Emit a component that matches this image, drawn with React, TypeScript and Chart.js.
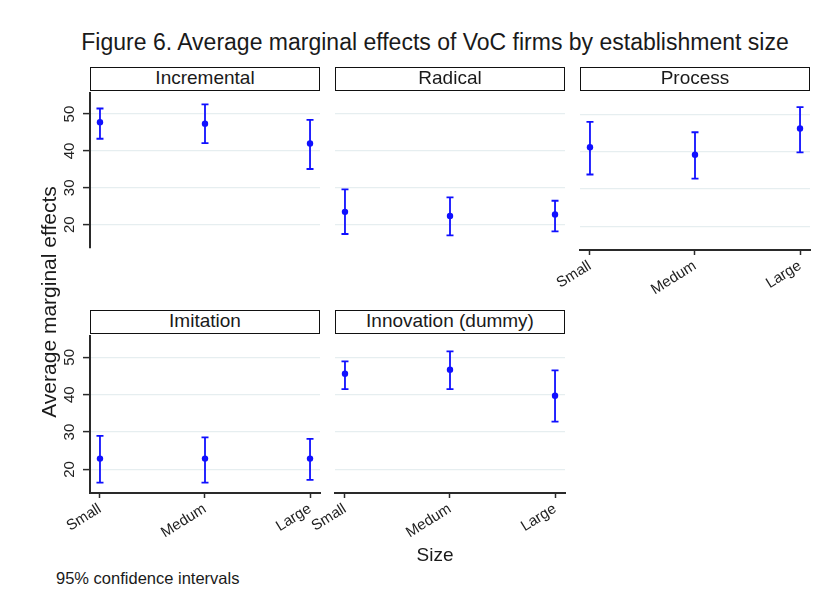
import React, { useEffect, useRef } from 'react';
import { Chart, registerables } from 'chart.js';

Chart.register(...registerables);

// Establishment size categories (tick labels as printed on the axis)
const sizeLabels = ['Small', 'Medum', 'Large'];
const yTickValues = [20, 30, 40, 50];

// Average marginal effects with 95% confidence bounds, per innovation type
const incrementalMean = [47.8, 47.4, 42.0];
const incrementalLow = [43.3, 42.1, 35.1];
const incrementalHigh = [51.5, 52.6, 48.4];

const radicalMean = [23.5, 22.4, 22.8];
const radicalLow = [17.5, 17.1, 18.2];
const radicalHigh = [29.6, 27.4, 26.5];

const processMean = [41.2, 39.2, 46.2];
const processLow = [33.9, 32.8, 39.8];
const processHigh = [48.0, 45.2, 51.9];

const imitationMean = [22.9, 22.9, 22.9];
const imitationLow = [16.5, 16.5, 17.2];
const imitationHigh = [29.0, 28.6, 28.2];

const innovationMean = [45.6, 46.7, 39.7];
const innovationLow = [41.5, 41.5, 32.8];
const innovationHigh = [48.9, 51.6, 46.5];

const FONT = "'Liberation Sans', Arial, Helvetica, sans-serif";
const BLUE = '#1010ff';
const AXIS = '#2a2a2a';
const GRID = '#e6eef0';

const PLOT_W = 230;
const PLOT_H = 159;
const Y_AXIS_W = 40;
const X_AXIS_H = 60;

type PanelSpec = {
  title: string;
  mean: number[];
  low: number[];
  high: number[];
  left: number;
  top: number;
  showY: boolean;
  showX: boolean;
};

const panels: PanelSpec[] = [
  { title: 'Incremental', mean: incrementalMean, low: incrementalLow, high: incrementalHigh, left: 90, top: 91, showY: true, showX: false },
  { title: 'Radical', mean: radicalMean, low: radicalLow, high: radicalHigh, left: 335, top: 91, showY: false, showX: false },
  { title: 'Process', mean: processMean, low: processLow, high: processHigh, left: 580, top: 91, showY: false, showX: true },
  { title: 'Imitation', mean: imitationMean, low: imitationLow, high: imitationHigh, left: 90, top: 334, showY: true, showX: true },
  { title: 'Innovation (dummy)', mean: innovationMean, low: innovationLow, high: innovationHigh, left: 335, top: 334, showY: false, showX: true },
];

// Draws the vertical confidence-interval bars with caps through the chart scales
const ciBarsPlugin = {
  id: 'ciBars',
  beforeDatasetsDraw(chart: any, _args: any, opts: any) {
    const { ctx } = chart;
    const x = chart.scales.x;
    const y = chart.scales.y;
    const low: number[] = opts.low || [];
    const high: number[] = opts.high || [];
    const cap = 3.5;
    ctx.save();
    ctx.strokeStyle = BLUE;
    ctx.lineWidth = 1.8;
    low.forEach((lo, i) => {
      const px = x.getPixelForValue(i + 1);
      const y0 = y.getPixelForValue(lo);
      const y1 = y.getPixelForValue(high[i]);
      ctx.beginPath();
      ctx.moveTo(px, y0);
      ctx.lineTo(px, y1);
      ctx.moveTo(px - cap, y0);
      ctx.lineTo(px + cap, y0);
      ctx.moveTo(px - cap, y1);
      ctx.lineTo(px + cap, y1);
      ctx.stroke();
    });
    ctx.restore();
  },
};

function Panel({ spec }: { spec: PanelSpec }) {
  const ref = useRef<HTMLCanvasElement>(null);
  const padTop = 2;
  const padRight = 4;
  const padBottom = spec.showX ? 0 : 2;
  const width = Y_AXIS_W + PLOT_W + padRight;
  const height = padTop + PLOT_H + (spec.showX ? X_AXIS_H : padBottom);

  useEffect(() => {
    if (!ref.current) return;
    const chart = new Chart(ref.current, {
      type: 'scatter',
      data: {
        datasets: [
          {
            data: spec.mean.map((v, i) => ({ x: i + 1, y: v })),
            backgroundColor: BLUE,
            borderColor: BLUE,
            borderWidth: 0,
            pointRadius: 3.2,
          },
        ],
      },
      plugins: [ciBarsPlugin],
      options: {
        animation: false,
        responsive: false,
        maintainAspectRatio: false,
        devicePixelRatio: 1,
        layout: { padding: { top: padTop, right: padRight, bottom: padBottom, left: 0 } },
        plugins: {
          legend: { display: false },
          tooltip: { enabled: false },
          ciBars: { low: spec.low, high: spec.high },
        } as any,
        scales: {
          x: {
            type: 'linear',
            display: spec.showX,
            min: 0.905,
            max: 3.095,
            afterBuildTicks: (s: any) => {
              s.ticks = [1, 2, 3].map((v) => ({ value: v }));
            },
            afterFit: (s: any) => {
              s.height = spec.showX ? X_AXIS_H : 0;
              s.paddingLeft = 0;
              s.paddingRight = 0;
            },
            grid: { drawOnChartArea: false, drawTicks: true, tickLength: 5, tickColor: AXIS, tickWidth: 1.5 },
            border: { display: true, color: AXIS, width: 2 },
            ticks: {
              autoSkip: false,
              minRotation: 32,
              maxRotation: 32,
              padding: 2,
              color: '#222',
              font: { family: FONT, size: 15 },
              callback: (v: any) => sizeLabels[Number(v) - 1] ?? '',
            },
          },
          y: {
            type: 'linear',
            min: 13.7,
            max: 55.7,
            afterBuildTicks: (s: any) => {
              s.ticks = yTickValues.map((v) => ({ value: v }));
            },
            afterFit: (s: any) => {
              s.width = Y_AXIS_W;
              s.paddingTop = 0;
              s.paddingBottom = 0;
            },
            grid: {
              color: GRID,
              lineWidth: 1.2,
              drawTicks: spec.showY,
              tickLength: 7,
              tickColor: AXIS,
              tickWidth: 1.5,
            },
            border: { display: spec.showY, color: AXIS, width: 2 },
            ticks: {
              display: spec.showY,
              minRotation: 90,
              maxRotation: 90,
              crossAlign: 'center',
              padding: 5,
              color: '#222',
              font: { family: FONT, size: 15 },
            },
          },
        },
      } as any,
    });
    return () => chart.destroy();
  }, [spec]);

  return (
    <canvas
      ref={ref}
      width={width}
      height={height}
      style={{
        position: 'absolute',
        left: spec.left - Y_AXIS_W,
        top: spec.top - padTop,
        width,
        height,
      }}
    />
  );
}

function Strip({ spec }: { spec: PanelSpec }) {
  return (
    <div
      style={{
        position: 'absolute',
        left: spec.left,
        top: spec.top - 24,
        width: PLOT_W,
        height: 24,
        boxSizing: 'border-box',
        border: '1.6px solid #111',
        background: '#fff',
        fontFamily: FONT,
        fontSize: 19,
        lineHeight: '20px',
        textAlign: 'center',
        color: '#1a1a1a',
        zIndex: 2,
      }}
    >
      {spec.title}
    </div>
  );
}

export default function App() {
  return (
    <div
      style={{
        position: 'absolute',
        left: 0,
        top: 0,
        width: 835,
        height: 608,
        background: '#fff',
        overflow: 'hidden',
        fontFamily: FONT,
        color: '#1a1a1a',
      }}
    >
      <div
        style={{
          position: 'absolute',
          left: 0,
          width: 870,
          top: 31,
          textAlign: 'center',
          fontSize: 23,
          lineHeight: '23px',
          whiteSpace: 'nowrap',
        }}
      >
        Figure 6. Average marginal effects of VoC firms by establishment size
      </div>

      {panels.map((p) => (
        <Panel key={p.title} spec={p} />
      ))}
      {panels.map((p) => (
        <Strip key={p.title + '-strip'} spec={p} />
      ))}

      <div
        style={{
          position: 'absolute',
          left: 49 - 150,
          top: 302 - 12,
          width: 300,
          height: 24,
          lineHeight: '24px',
          textAlign: 'center',
          fontSize: 21,
          transform: 'rotate(-90deg)',
          whiteSpace: 'nowrap',
        }}
      >
        Average marginal effects
      </div>

      <div
        style={{
          position: 'absolute',
          left: 335,
          width: 200,
          top: 545,
          textAlign: 'center',
          fontSize: 19,
          lineHeight: '19px',
        }}
      >
        Size
      </div>

      <div
        style={{
          position: 'absolute',
          left: 56,
          top: 570,
          fontSize: 16.5,
          lineHeight: '17px',
          whiteSpace: 'nowrap',
        }}
      >
        95% confidence intervals
      </div>
    </div>
  );
}
